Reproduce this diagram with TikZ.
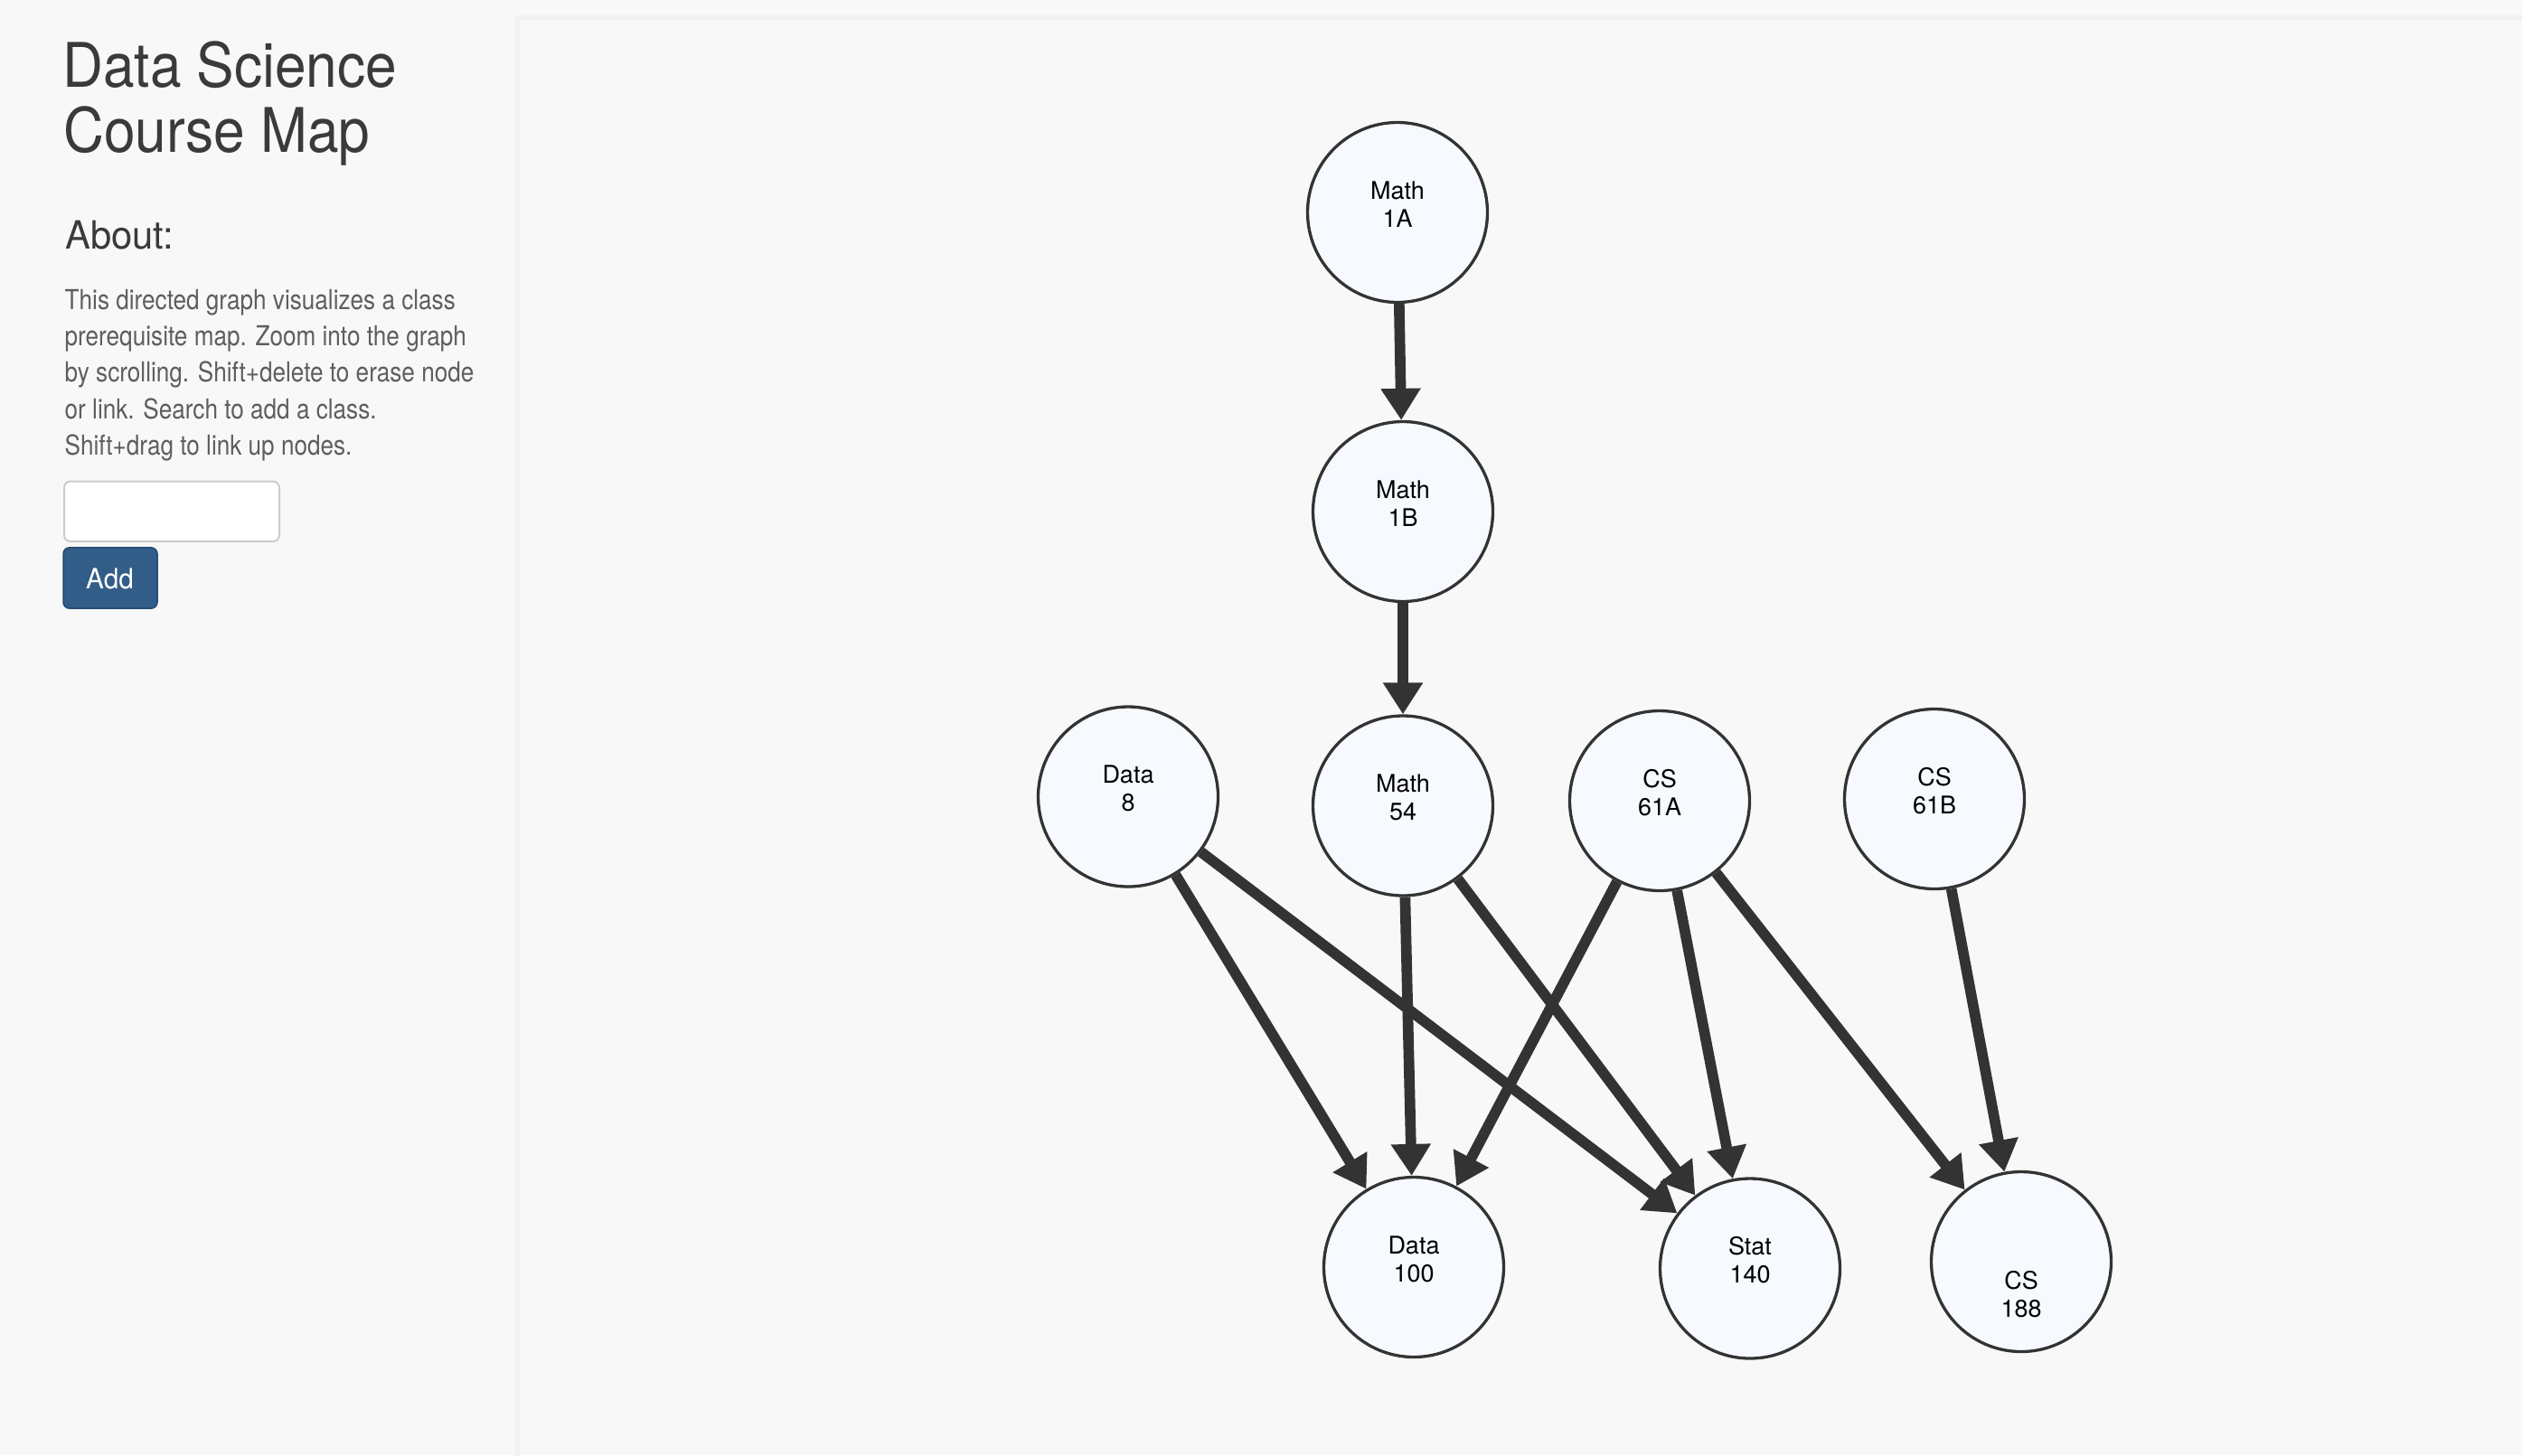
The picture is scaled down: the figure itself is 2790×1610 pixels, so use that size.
\documentclass[tikz,border=0pt]{standalone}
\usepackage{graphicx}
\usepackage{fontspec}
\setmainfont{TeX Gyre Heros}
\usetikzlibrary{arrows.meta}

\definecolor{pagebg}{HTML}{F8F8F8}
\definecolor{panelline}{HTML}{F1F1F1}
\definecolor{ink}{HTML}{333333}
\definecolor{headtext}{HTML}{3A3A3A}
\definecolor{bodytext}{HTML}{5E5E5E}
\definecolor{nodefill}{HTML}{F6FAFF}
\definecolor{inputline}{HTML}{CCCCCC}
\definecolor{btnfill}{HTML}{325D88}
\definecolor{btnline}{HTML}{264A70}

\pgfdeclarelayer{canvas}
\pgfdeclarelayer{links}
\pgfsetlayers{canvas,links,main}

\tikzset{
  course/.style={circle, draw=ink, line width=3.3pt, fill=nodefill,
    minimum size=199pt, inner sep=0pt},
  ctext/.style={font=\fontsize{27}{31}\selectfont, align=center, text=black},
  prereq/.style={draw=ink, line width=11.7pt,
    -{Triangle[width=42pt,length=35pt]}},
  titletext/.style={anchor=base west, inner sep=0pt, text=headtext,
    font=\fontsize{68}{72}\selectfont},
  abouttext/.style={anchor=base west, inner sep=0pt, text=headtext,
    font=\fontsize{43}{46}\selectfont},
  bodyline/.style={anchor=base west, inner sep=0pt, text=bodytext,
    font=\fontsize{30.4}{40}\selectfont},
}

% narrower setting of sidebar text
\newcommand\narrow[2]{\scalebox{#1}[1]{#2}}

% a course: name, position, vertical offset of its label, label text
\newcommand\coursenode[4]{%
  \node[course, label={[ctext, yshift=#3]center:{#4}}] (#1) at (#2) {};}

\begin{document}
\begin{tikzpicture}[x=1pt, y=-1pt]
  \useasboundingbox (0,0) rectangle (2790,1610);

  \begin{pgfonlayer}{canvas}
    \fill[pagebg] (0,0) rectangle (2790,1610);
    \draw[panelline, line width=5pt] (572.5,1615) -- (572.5,19) -- (2795,19);
  \end{pgfonlayer}

  % sidebar
  \node[titletext] (title1) at (69,96) {\narrow{0.915}{Data Science}};
  \node[titletext] (title2) at (70,168.7) {\narrow{0.915}{Course Map}};
  \node[abouttext] (about) at (72,275.9) {\narrow{0.97}{About:}};
  \node[bodyline] (b1) at (71.5,342.4) {\narrow{0.86}{This directed graph visualizes a class}};
  \node[bodyline] (b2) at (71.5,382.6) {\narrow{0.86}{prerequisite map. Zoom into the graph}};
  \node[bodyline] (b3) at (71.5,422.8) {\narrow{0.86}{by scrolling. Shift+delete to erase node}};
  \node[bodyline] (b4) at (71.5,463.0) {\narrow{0.86}{or link. Search to add a class.}};
  \node[bodyline] (b5) at (71.5,503.2) {\narrow{0.86}{Shift+drag to link up nodes.}};

  \draw[inputline, fill=white, line width=2pt, rounded corners=7pt]
    (71,532.6) rectangle (309,599.1);
  \draw[btnline, fill=btnfill, line width=1.5pt, rounded corners=7pt]
    (70,605.8) rectangle (174,673.2);
  \node[text=white, font=\fontsize{31}{34}\selectfont] (add) at (121.5,640)
    {\narrow{0.96}{Add}};

  % courses
  \coursenode{m1a}{1546,235}{9pt}{Math\\1A}
  \coursenode{m1b}{1552,566}{9pt}{Math\\1B}
  \coursenode{d8}{1248,881.5}{9pt}{Data\\8}
  \coursenode{m54}{1552,891.5}{9pt}{Math\\54}
  \coursenode{cs61a}{1836,886}{9pt}{CS\\61A}
  \coursenode{cs61b}{2140,884}{9pt}{CS\\61B}
  \coursenode{d100}{1564,1402}{9pt}{Data\\100}
  \coursenode{st140}{1936,1403.5}{9pt}{Stat\\140}
  \coursenode{cs188}{2236,1396}{-36pt}{CS\\188}

  % prerequisites
  \begin{pgfonlayer}{links}
    \draw[prereq] (m1a) -- (m1b);
    \draw[prereq] (m1b) -- (m54);
    \draw[prereq] (d8) -- (d100);
    \draw[prereq] (d8) -- (st140);
    \draw[prereq] (m54) -- (d100);
    \draw[prereq] (m54) -- (st140);
    \draw[prereq] (cs61a) -- (d100);
    \draw[prereq] (cs61a) -- (st140);
    \draw[prereq] (cs61a) -- (cs188);
    \draw[prereq] (cs61b) -- (cs188);
  \end{pgfonlayer}
\end{tikzpicture}
\end{document}
